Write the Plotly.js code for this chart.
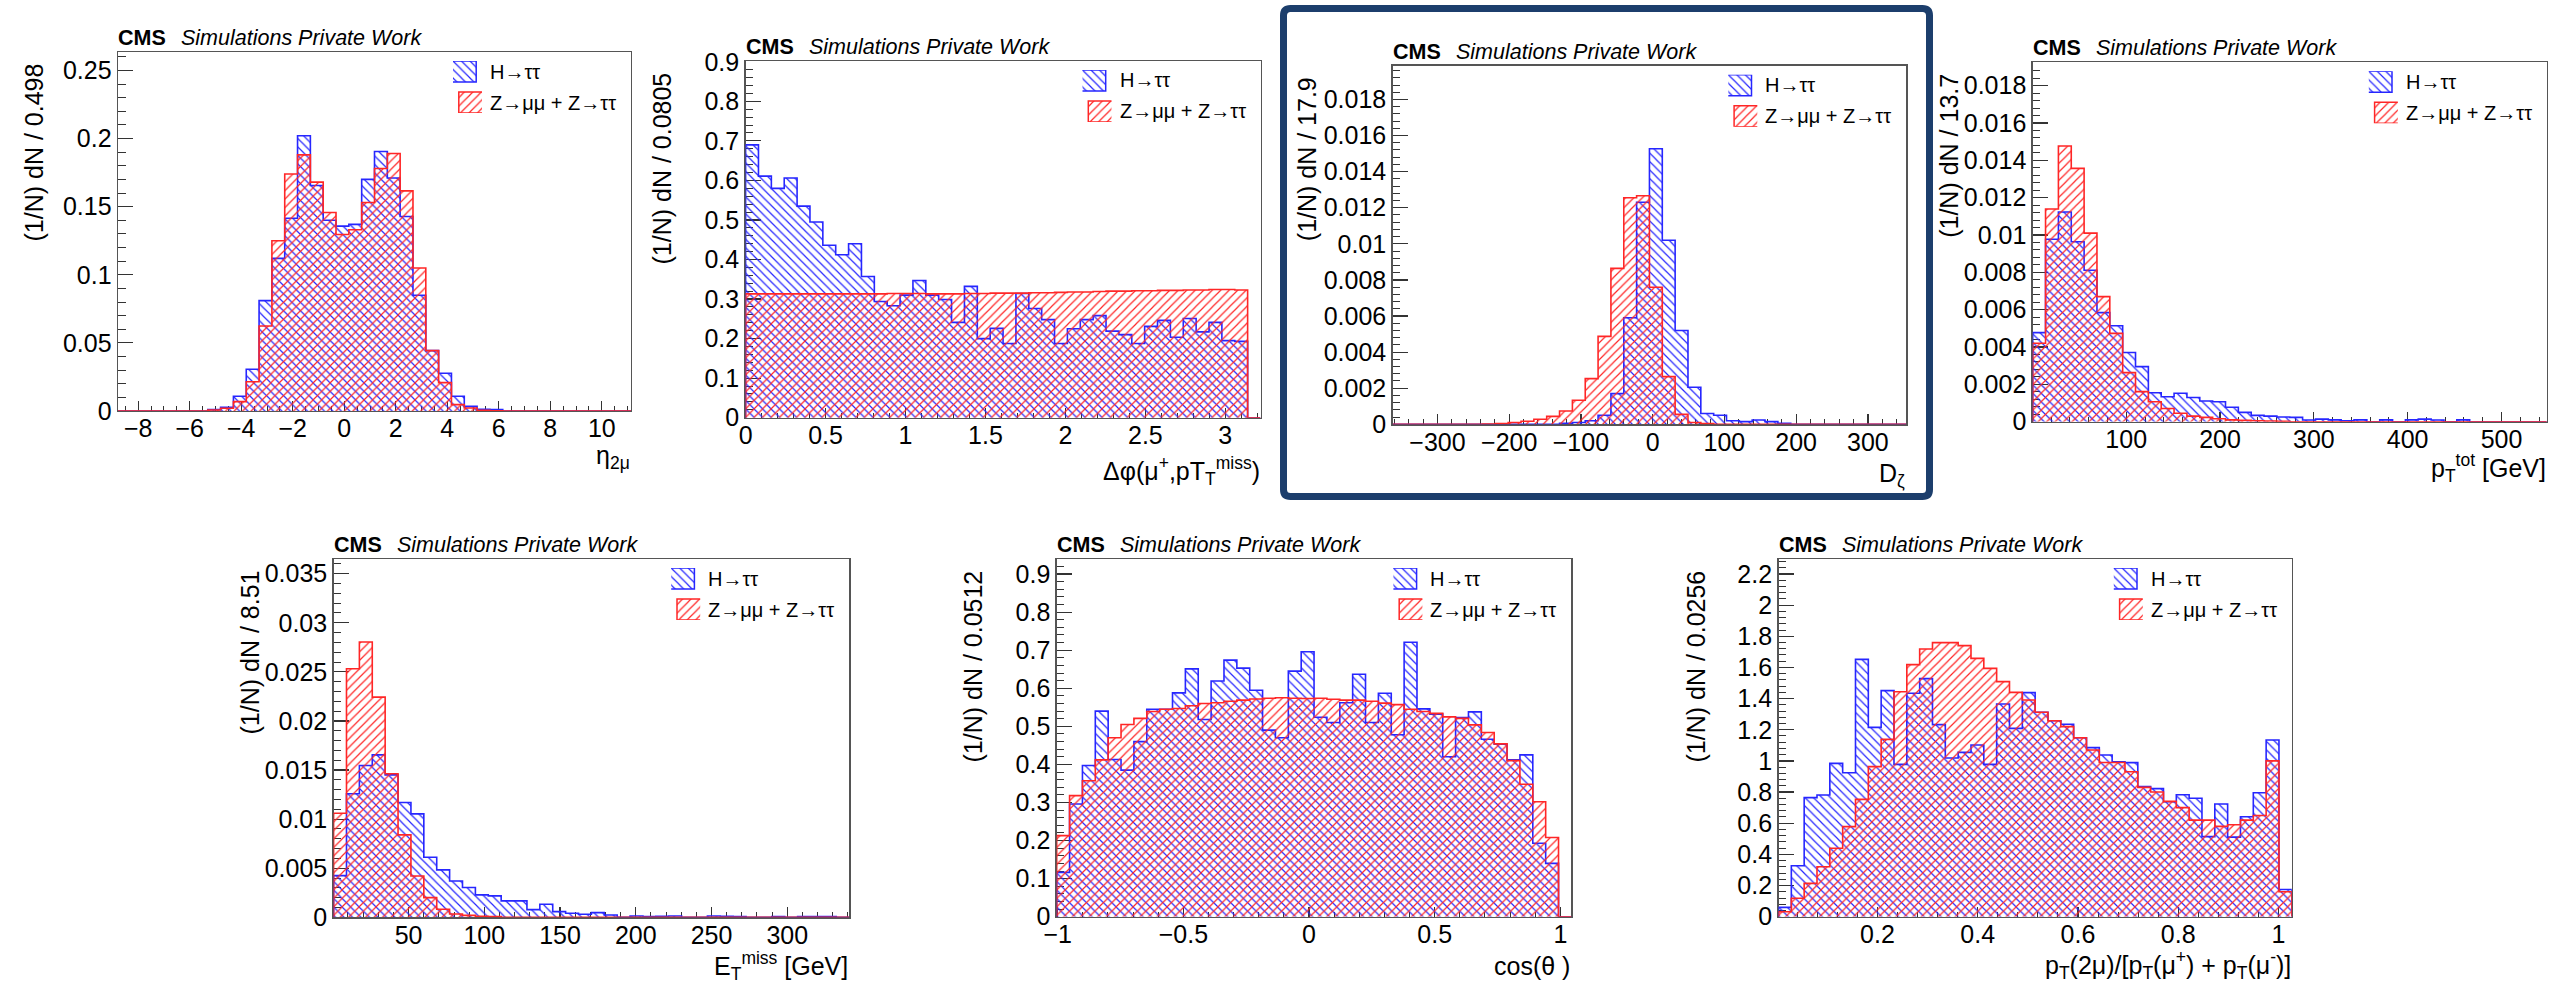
<!DOCTYPE html>
<html><head><meta charset="utf-8">
<script src="https://cdn.plot.ly/plotly-3.0.1.min.js"></script>
<style>html,body{margin:0;padding:0;background:#fff;} #plot{width:2552px;height:987px;}</style>
</head><body><div id="plot"></div>
<script>
// ---------------- DATA (bin contents) ----------------
const SERIES_NAMES = ['H\u2192\u03c4\u03c4', 'Z\u2192\u03bc\u03bc + Z\u2192\u03c4\u03c4'];

// eta(2mu)
const ETA_XMIN = -8.786, ETA_BINW = 0.498;
const ETA_H = [0,0,0,0,0,0,0,0.001,0.0027,0.0108,0.0306,0.081,0.112,0.1415,0.202,0.1655,0.140,0.1357,0.137,0.170,0.1905,0.171,0.1428,0.085,0.0443,0.0277,0.0108,0.0034,0.0012,0.001,0,0,0,0,0,0,0,0,0,0];
const ETA_Z = [0,0,0,0,0,0,0,0.0007,0.002,0.0069,0.0215,0.0624,0.125,0.174,0.188,0.168,0.1457,0.1295,0.133,0.153,0.178,0.189,0.1616,0.105,0.0443,0.0208,0.0047,0.0022,0.0005,0.0002,0,0,0,0,0,0,0,0,0,0];

// delta phi(mu+, pTmiss)
const DPHI_XMIN = 0, DPHI_BINW = 0.0805;
const DPHI_H = [0.690,0.611,0.580,0.606,0.535,0.495,0.436,0.412,0.440,0.357,0.294,0.283,0.310,0.347,0.310,0.299,0.241,0.332,0.200,0.226,0.1875,0.314,0.276,0.248,0.1875,0.225,0.248,0.258,0.219,0.210,0.1875,0.231,0.246,0.2035,0.251,0.217,0.241,0.195,0.193,0];
const DPHI_Z = [0.313,0.313,0.313,0.313,0.313,0.313,0.313,0.313,0.313,0.313,0.313,0.314,0.314,0.314,0.313,0.313,0.313,0.314,0.314,0.315,0.315,0.315,0.316,0.316,0.317,0.318,0.318,0.319,0.320,0.320,0.321,0.321,0.322,0.322,0.323,0.323,0.324,0.324,0.323,0];

// D zeta
const DZ_XMIN = -362.5, DZ_BINW = 17.9;
const DZ_H = [0,0,0,0,0,0,0,0,0,0,0,0,0,0.00005,0.0001,0.0002,0.0005,0.0017,0.0059,0.0123,0.01527,0.0102,0.0052,0.00205,0.0006,0.0005,0.0002,0.00015,0.00024,0.00015,0.00006,0,0,0,0,0,0,0,0,0];
const DZ_Z = [0,0,0,0,0,0,0,0.00002,0.00004,0.0001,0.00017,0.00028,0.00044,0.00074,0.00133,0.00253,0.00487,0.00864,0.01255,0.01266,0.00759,0.00264,0.00055,0.0001,0.00004,0,0,0,0,0,0,0,0,0,0,0,0,0,0,0];

// pT tot
const PT_XMIN = 0.3, PT_BINW = 13.7;
const PT_H = [0.00477,0.00977,0.01123,0.00964,0.00811,0.00584,0.00514,0.00371,0.00295,0.00155,0.00134,0.00152,0.0013,0.00111,0.00107,0.00077,0.0005,0.00034,0.0003,0.00025,0.00023,0.00009,0.00014,0.0001,0.00005,0.0001,0,0.0001,0,0.0001,0.00014,0.00009,0,0.0001,0,0,0,0,0,0];
const PT_Z = [0.0042,0.01139,0.01477,0.01357,0.0101,0.0067,0.00473,0.00263,0.00161,0.00107,0.00071,0.00045,0.0003,0.00023,0.00016,0.0001,0.00007,0.00005,0.00004,0.00002,0,0,0,0,0,0,0,0,0,0,0,0,0,0,0,0,0,0,0,0];

// MET
const MET_XMIN = 0.5, MET_BINW = 8.51;
const MET_H = [0.00425,0.01258,0.01547,0.01655,0.01451,0.01169,0.01054,0.00612,0.00483,0.0037,0.00303,0.00228,0.00218,0.00167,0.00167,0.00078,0.00133,0.00058,0.00041,0.00031,0.00048,0.00024,0,0.00014,0.00007,0.0001,0.00014,0,0,0.00014,0.0001,0.00007,0,0,0.00007,0,0.00007,0.00007,0.00007,0];
const MET_Z = [0.0106,0.02532,0.02804,0.02243,0.01462,0.0084,0.00421,0.002,0.00082,0.00034,0.0002,0.0001,0.00007,0,0,0,0,0,0,0,0,0,0,0,0,0,0,0,0,0,0,0,0,0,0,0,0,0,0,0];

// cos(theta)
const COS_XMIN = -1.004, COS_BINW = 0.0512;
const COS_H = [0.1165,0.296,0.397,0.540,0.413,0.385,0.460,0.545,0.545,0.588,0.651,0.518,0.619,0.674,0.653,0.595,0.490,0.470,0.645,0.696,0.524,0.510,0.562,0.637,0.510,0.587,0.478,0.721,0.546,0.532,0.420,0.523,0.538,0.466,0.453,0.412,0.425,0.193,0.140,0];
const COS_Z = [0.213,0.318,0.357,0.412,0.470,0.505,0.521,0.539,0.545,0.547,0.554,0.560,0.562,0.566,0.569,0.572,0.574,0.575,0.574,0.573,0.574,0.571,0.569,0.569,0.566,0.561,0.557,0.545,0.539,0.534,0.525,0.521,0.504,0.484,0.454,0.410,0.348,0.302,0.208,0];

// pT(2mu)/[pT(mu+)+pT(mu-)]
const PTR_XMIN = 0.0026, PTR_BINW = 0.0256;
const PTR_H = [0.06,0.327,0.764,0.781,0.984,0.924,1.652,1.215,1.451,0.978,1.434,1.528,1.233,1.019,1.055,1.102,0.978,1.365,1.209,1.438,1.312,1.258,1.235,1.149,1.085,1.038,0.995,0.989,0.835,0.822,0.738,0.783,0.760,0.514,0.723,0.511,0.642,0.796,1.134,0.175];
const PTR_Z = [0.032,0.118,0.214,0.321,0.439,0.578,0.753,0.963,1.138,1.444,1.618,1.718,1.759,1.759,1.740,1.658,1.594,1.509,1.440,1.391,1.312,1.258,1.22,1.149,1.07,0.99,0.99,0.93,0.83,0.80,0.74,0.70,0.62,0.62,0.58,0.59,0.62,0.65,1.00,0.16];

const Y_TITLES = ['(1/N) dN / 0.498','(1/N) dN / 0.0805','(1/N) dN / 17.9','(1/N) dN / 13.7','(1/N) dN / 8.51','(1/N) dN / 0.0512','(1/N) dN / 0.0256'];
const X_TITLES = ['\u03b7<sub>2\u03bc</sub>',
  '\u0394\u03c6(\u03bc<sup>+</sup>,pT<sub>T</sub><sup>miss</sup>)',
  'D<sub>\u03b6</sub>',
  'p<sub>T</sub><sup>tot</sup> [GeV]',
  'E<sub>T</sub><sup>miss</sup> [GeV]',
  'cos(\u03b8 )',
  'p<sub>T</sub>(2\u03bc)/[p<sub>T</sub>(\u03bc<sup>+</sup>) + p<sub>T</sub>(\u03bc<sup>-</sup>)]'];
const CMS_LABEL = 'CMS', CMS_EXTRA = 'Simulations Private Work';

// ---------------- LAYOUT ----------------
const W = 2552, H = 987;
const FONT = 'Liberation Sans, Arial, Helvetica, sans-serif';
const BLUE = '#2626ff', RED = '#ff2626';
const PX = p => p / W, PY = p => 1 - p / H;

const PANELS = [
  {xmin:ETA_XMIN, w:ETA_BINW, h:ETA_H, z:ETA_Z, f:[118,52,631,411], ytop:0.2635, xd:2, xm:0.5, yd:0.05, ym:0.01, xtOff:46, ytx:33},
  {xmin:DPHI_XMIN, w:DPHI_BINW, h:DPHI_H, z:DPHI_Z, f:[745.6,61,1260.5,417.7], ytop:0.902, xd:0.5, xm:0.1, yd:0.1, ym:0.02, xtOff:53, ytx:662},
  {xmin:DZ_XMIN, w:DZ_BINW, h:DZ_H, z:DZ_Z, f:[1392.6,65.7,1906.3,424.3], ytop:0.01987, xd:100, xm:20, yd:0.002, ym:0.0004, xtOff:51, ytx:1307},
  {xmin:PT_XMIN, w:PT_BINW, h:PT_H, z:PT_Z, f:[2032.7,62.3,2546.8,421.7], ytop:0.01925, xd:100, xm:20, yd:0.002, ym:0.0004, xtOff:46, ytx:1949},
  {xmin:MET_XMIN, w:MET_BINW, h:MET_H, z:MET_Z, f:[333.6,559,849.2,917.3], ytop:0.0365, xd:50, xm:10, yd:0.005, ym:0.001, xtOff:49, ytx:249},
  {xmin:COS_XMIN, w:COS_BINW, h:COS_H, z:COS_Z, f:[1056.7,559,1571.4,916.7], ytop:0.9396, xd:0.5, xm:0.1, yd:0.1, ym:0.02, xtOff:49, ytx:972},
  {xmin:PTR_XMIN, w:PTR_BINW, h:PTR_H, z:PTR_Z, f:[1778.5,559,2291.8,916.7], ytop:2.296, xd:0.2, xm:0.04, yd:0.2, ym:0.04, xtOff:48, ytx:1695}
];

const PAT_SIZE = 6, PAT_SOL = 0.2;

function stepTrace(xmin, w, vals, xa, ya, color, shape) {
  const x = [xmin], y = [0];
  vals.forEach((v, i) => { x.push(xmin + i * w); y.push(v); });
  x.push(xmin + vals.length * w); y.push(0);
  return {type:'scatter', mode:'lines', x, y, xaxis:xa, yaxis:ya,
    line:{shape:'hv', color, width:1.6},
    fill:'tozeroy', fillcolor:'rgba(0,0,0,0)',
    fillpattern:{shape, fgcolor:color, bgcolor:'rgba(0,0,0,0)', size:PAT_SIZE, solidity:PAT_SOL, fillmode:'replace'},
    cliponaxis:false, hoverinfo:'skip', showlegend:false};
}

const traces = [], annotations = [], layout = {
  width:W, height:H, margin:{l:0,r:0,t:0,b:0}, paper_bgcolor:'#fff', plot_bgcolor:'rgba(0,0,0,0)',
  showlegend:false, font:{family:FONT, color:'#000'}
};

const axBase = {showline:true, mirror:true, linecolor:'#555', linewidth:1.4, ticks:'inside', tickcolor:'#333', tickwidth:1.2,
  showgrid:false, zeroline:false, tick0:0, tickfont:{family:FONT, size:25, color:'#000'}, layer:'below traces', fixedrange:true,
  exponentformat:'none'};

PANELS.forEach((p, i) => {
  const n = i + 1, k = i + 8;
  const [L, T, R, B] = p.f;
  const xa = 'x' + n, ya = 'y' + n;
  layout['xaxis' + n] = Object.assign({}, axBase, {
    domain:[PX(L), PX(R)], range:[p.xmin, p.xmin + p.h.length * p.w], anchor:ya,
    dtick:p.xd, ticklen:10, ticklabelstandoff:-5,
    minor:{ticks:'inside', dtick:p.xm, ticklen:5, tickcolor:'#333', tickwidth:1}
  });
  layout['yaxis' + n] = Object.assign({}, axBase, {
    domain:[PY(B), PY(T)], range:[0, p.ytop], anchor:xa,
    dtick:p.yd, ticklen:15, minor:{ticks:'inside', dtick:p.ym, ticklen:7.5, tickcolor:'#333', tickwidth:1}
  });
  traces.push(stepTrace(p.xmin, p.w, p.h, xa, ya, BLUE, '\\'));
  traces.push(stepTrace(p.xmin, p.w, p.z, xa, ya, RED, '/'));

  // legend swatch axes
  const LL = R - 178;
  layout['xaxis' + k] = {domain:[PX(LL), PX(LL + 29)], range:[0, 1], visible:false, fixedrange:true, anchor:'y' + k};
  layout['yaxis' + k] = {domain:[PY(T + 61), PY(T + 9)], range:[0, 52], visible:false, fixedrange:true, anchor:'x' + k};
  [[BLUE, '\\', 31], [RED, '/', 0]].forEach(([c, s, b]) => {
    traces.push({type:'bar', x:[0.5], y:[21], base:[b], width:[1], xaxis:'x' + k, yaxis:'y' + k,
      marker:{color:'#fff', line:{color:c, width:1.5}, pattern:{shape:s, fgcolor:c, bgcolor:'#fff', size:PAT_SIZE, solidity:PAT_SOL, fillmode:'replace'}},
      cliponaxis:false, hoverinfo:'skip', showlegend:false});
  });
  annotations.push({xref:'paper', yref:'paper', x:PX(LL + 35), y:PY(T + 19.5), xanchor:'left', yanchor:'middle',
    text:SERIES_NAMES[0], showarrow:false, font:{family:FONT, size:20, color:'#000'}});
  annotations.push({xref:'paper', yref:'paper', x:PX(LL + 35), y:PY(T + 50.5), xanchor:'left', yanchor:'middle',
    text:SERIES_NAMES[1], showarrow:false, font:{family:FONT, size:20, color:'#000'}});

  // CMS labels
  annotations.push({xref:'paper', yref:'paper', x:PX(L - 2), y:PY(T - 14), xanchor:'left', yanchor:'middle',
    text:'<b>' + CMS_LABEL + '</b>', showarrow:false, font:{family:FONT, size:21.5, color:'#000'}});
  annotations.push({xref:'paper', yref:'paper', x:PX(L + 61), y:PY(T - 14), xanchor:'left', yanchor:'middle',
    text:'<i>' + CMS_EXTRA + '</i>', showarrow:false, font:{family:FONT, size:21.5, color:'#000'}});

  // axis titles
  annotations.push({xref:'paper', yref:'paper', x:PX(p.ytx), y:PY(T + 9.5), xanchor:'center', yanchor:'top', textangle:-90,
    text:Y_TITLES[i], showarrow:false, font:{family:FONT, size:25, color:'#000'}});
  annotations.push({xref:'paper', yref:'paper', x:PX(R + 1), y:PY(B + p.xtOff), xanchor:'right', yanchor:'middle',
    text:X_TITLES[i], showarrow:false, font:{family:FONT, size:25, color:'#000'}});
});

// highlight frame around the third panel
(function () {
  const x0 = 1283.5, x1 = 1929.5, y0 = 8.5, y1 = 496.5, r = 7;
  const path = `M ${PX(x0 + r)},${PY(y0)} L ${PX(x1 - r)},${PY(y0)} Q ${PX(x1)},${PY(y0)} ${PX(x1)},${PY(y0 + r)} ` +
    `L ${PX(x1)},${PY(y1 - r)} Q ${PX(x1)},${PY(y1)} ${PX(x1 - r)},${PY(y1)} L ${PX(x0 + r)},${PY(y1)} ` +
    `Q ${PX(x0)},${PY(y1)} ${PX(x0)},${PY(y1 - r)} L ${PX(x0)},${PY(y0 + r)} Q ${PX(x0)},${PY(y0)} ${PX(x0 + r)},${PY(y0)} Z`;
  layout.shapes = [{type:'path', xref:'paper', yref:'paper', path, line:{color:'rgb(28,62,108)', width:7}, fillcolor:'rgba(0,0,0,0)'}];
})();

layout.annotations = annotations;
Plotly.newPlot('plot', traces, layout, {displayModeBar:false, staticPlot:true});
</script>
</body></html>
